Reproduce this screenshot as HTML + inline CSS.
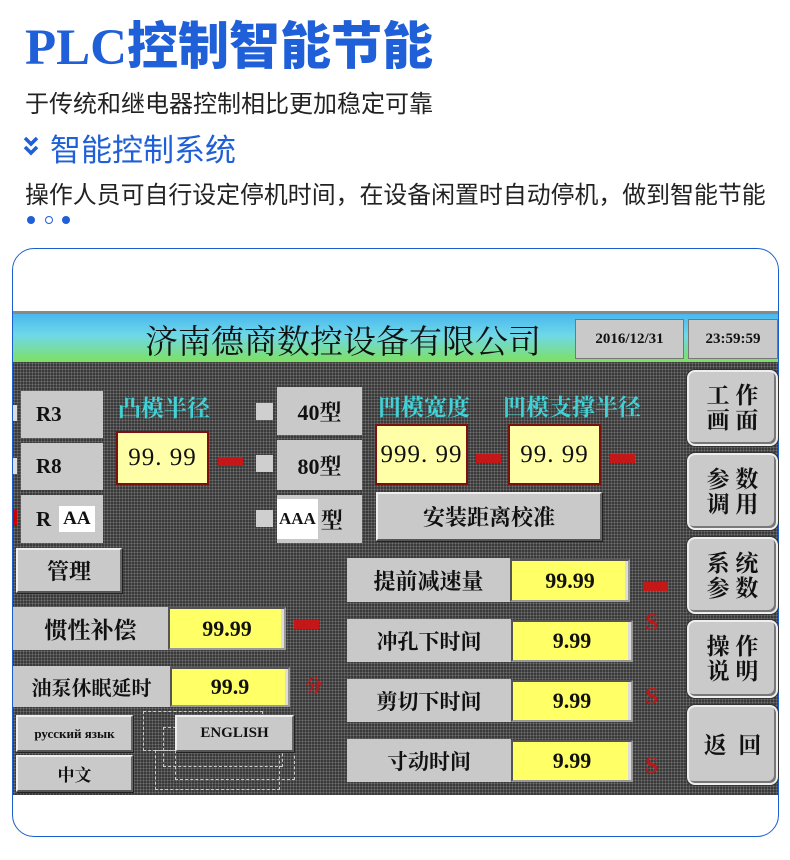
<!DOCTYPE html>
<html><head><meta charset="utf-8">
<style>
*{margin:0;padding:0;box-sizing:border-box}
body{width:790px;height:860px;background:#fff;position:relative;overflow:hidden;font-family:"Liberation Serif","Noto Serif CJK SC",serif}
.a{position:absolute}
.sans{font-family:"Liberation Sans","Noto Sans CJK SC",sans-serif}
.btn{position:absolute;background:#c9c9c9;display:flex;align-items:center;justify-content:center;color:#111;font-weight:bold;font-family:"Liberation Serif","Noto Serif CJK SC",serif}
.rb{border:2px solid #eee;border-right-color:#666;border-bottom-color:#555;box-shadow:1px 1px 0 #222}
.yb{position:absolute;background:#ffff66;border:2px solid #999;border-top-color:#555;border-left-color:#555;box-shadow:inset -3px 0 0 #ddd;display:flex;align-items:center;justify-content:center;font-weight:bold;font-size:22px;color:#111}
.pb{position:absolute;background:#ffffa8;border:2px solid #7a1010;display:flex;align-items:center;justify-content:center;font-size:25px;color:#111;font-family:"Liberation Serif",serif;letter-spacing:1px}
.cy{position:absolute;color:#3fd3d8;font-size:23px;font-family:"Noto Serif CJK SC",serif;font-weight:bold}
.mm{position:absolute;width:25px;height:9px;background:#c41818}
.sq{position:absolute;width:17px;height:17px;background:#cfcfcf}
.s{position:absolute;color:#b81a1a;font-weight:bold;font-size:24px}
.side{position:absolute;left:687px;width:91px;background:#cacaca;border:2px solid #eee;border-radius:8px;box-shadow:inset -2px -2px 0 #777,0 0 0 1px #333;display:flex;align-items:center;justify-content:center;text-align:center;font-weight:bold;font-size:23px;line-height:25px;color:#111}
.dash{position:absolute border:1px dashed #ccc}
.dash{position:absolute;border:1px dashed #ccc}
</style></head><body>
<div class="a sans" style="left:25px;top:5px;font-size:51px;font-weight:900;color:#1f5fd8;white-space:nowrap"><span style="font-family:'Liberation Serif',serif">PLC</span>控制智能节能</div>
<div class="a sans" style="left:25px;top:84px;font-size:24px;color:#222;white-space:nowrap">于传统和继电器控制相比更加稳定可靠</div>
<svg class="a" style="left:23px;top:136px" width="16" height="22" viewBox="0 0 16 22"><path d="M2 2 L8 8 L14 2 M2 11 L8 17 L14 11" fill="none" stroke="#1f5fd8" stroke-width="3.5"/></svg>
<div class="a sans" style="left:50px;top:125px;font-size:31px;color:#1f5fd8;white-space:nowrap">智能控制系统</div>
<div class="a sans" style="left:25px;top:175px;font-size:23.9px;color:#222;white-space:nowrap">操作人员可自行设定停机时间，在设备闲置时自动停机，做到智能节能</div>
<div class="a" style="left:27px;top:216px;width:8px;height:8px;border-radius:50%;background:#1f5fd8"></div>
<div class="a" style="left:45px;top:216px;width:8px;height:8px;border-radius:50%;border:1.5px solid #1f5fd8"></div>
<div class="a" style="left:62px;top:216px;width:8px;height:8px;border-radius:50%;background:#1f5fd8"></div>

<div class="a" style="left:12px;top:248px;width:767px;height:589px;border:1.5px solid #1a5fd0;border-radius:22px"></div>
<div class="a" style="left:13px;top:311px;width:765px;height:3px;background:#888"></div>
<div class="a" style="left:13px;top:314px;width:765px;height:48px;background:linear-gradient(#4ab8f0,#6fd8e8 45%,#7ee060)"></div>
<div class="a" style="left:145px;top:316px;font-size:33px;color:#111;white-space:nowrap;font-family:'Noto Serif CJK SC',serif">济南德商数控设备有限公司</div>
<div class="btn" style="left:575px;top:319px;width:109px;height:40px;border:1px solid #777;font-size:15px">2016/12/31</div>
<div class="btn" style="left:688px;top:319px;width:90px;height:40px;border:1px solid #777;font-size:15px">23:59:59</div>
<div class="a" style="left:13px;top:362px;width:765px;height:433px;background-color:#3a3a3a;background-image:radial-gradient(#707070 0.8px,transparent 1px);background-size:3px 3px"></div>

<div class="a" style="left:13px;top:405px;width:4px;height:16px;background:#ddd"></div>
<div class="a" style="left:13px;top:458px;width:4px;height:16px;background:#ddd"></div>
<div class="a" style="left:13px;top:510px;width:4px;height:16px;background:#c00"></div>
<div class="btn" style="left:21px;top:391px;width:82px;height:47px;justify-content:flex-start;padding-left:15px;font-size:21px">R3</div>
<div class="btn" style="left:21px;top:443px;width:82px;height:47px;justify-content:flex-start;padding-left:15px;font-size:21px">R8</div>
<div class="btn" style="left:21px;top:495px;width:82px;height:48px;justify-content:flex-start;padding-left:15px;font-size:21px">R<span style="background:#fff;margin-left:8px;padding:2px 4px;font-size:19px">AA</span></div>
<div class="cy" style="left:118px;top:390px">凸模半径</div>
<div class="pb" style="left:116px;top:431px;width:93px;height:54px">99. 99</div>
<div class="mm" style="left:218px;top:457px"></div>
<div class="sq" style="left:256px;top:403px"></div>
<div class="sq" style="left:256px;top:455px"></div>
<div class="sq" style="left:256px;top:510px"></div>
<div class="btn" style="left:277px;top:387px;width:85px;height:48px;font-size:22px">40型</div>
<div class="btn" style="left:277px;top:440px;width:85px;height:50px;font-size:22px">80型</div>
<div class="btn" style="left:277px;top:495px;width:85px;height:48px;justify-content:flex-start;font-size:22px"><span style="background:#fff;padding:10px 2px;font-size:17px;margin-right:3px">AAA</span>型</div>
<div class="cy" style="left:378px;top:389px">凹模宽度</div>
<div class="cy" style="left:503px;top:389px">凹模支撑半径</div>
<div class="pb" style="left:375px;top:424px;width:93px;height:61px">999. 99</div>
<div class="mm" style="left:476px;top:454px"></div>
<div class="pb" style="left:508px;top:424px;width:93px;height:61px">99. 99</div>
<div class="mm" style="left:610px;top:454px"></div>
<div class="btn rb" style="left:376px;top:492px;width:226px;height:49px;font-size:22px">安装距离校准</div>

<div class="side" style="top:370px;height:76px">工 作<br>画 面</div>
<div class="side" style="top:453px;height:77px">参 数<br>调 用</div>
<div class="side" style="top:537px;height:77px">系 统<br>参 数</div>
<div class="side" style="top:620px;height:78px">操 作<br>说 明</div>
<div class="side" style="top:705px;height:80px">返 &nbsp;回</div>

<div class="btn rb" style="left:16px;top:548px;width:106px;height:45px;font-size:22px">管理</div>
<div class="btn" style="left:13px;top:607px;width:155px;height:43px;font-size:23px">惯性补偿</div>
<div class="yb" style="left:168px;top:607px;width:118px;height:43px">99.99</div>
<div class="mm" style="left:294px;top:620px"></div>
<div class="btn" style="left:13px;top:666px;width:157px;height:41px;font-size:20px">油泵休眠延时</div>
<div class="yb" style="left:170px;top:667px;width:120px;height:40px">99.9</div>
<div class="s" style="left:305px;top:672px;font-size:18px">分</div>
<div class="dash" style="left:143px;top:711px;width:120px;height:40px"></div>
<div class="dash" style="left:163px;top:727px;width:120px;height:40px"></div>
<div class="dash" style="left:155px;top:750px;width:125px;height:40px"></div>
<div class="dash" style="left:175px;top:745px;width:120px;height:35px"></div>
<div class="btn rb" style="left:16px;top:715px;width:117px;height:37px;font-size:13px">русский язык</div>
<div class="btn rb" style="left:16px;top:755px;width:117px;height:37px;font-size:17px">中文</div>
<div class="btn rb" style="left:175px;top:715px;width:119px;height:37px;font-size:15px">ENGLISH</div>

<div class="btn" style="left:347px;top:558px;width:163px;height:44px;font-size:22px">提前减速量</div>
<div class="yb" style="left:510px;top:559px;width:120px;height:43px">99.99</div>
<div class="mm" style="left:643px;top:582px"></div>
<div class="btn" style="left:347px;top:619px;width:164px;height:43px;font-size:21px">冲孔下时间</div>
<div class="yb" style="left:511px;top:620px;width:122px;height:42px">9.99</div>
<div class="s" style="left:645px;top:610px">S</div>
<div class="btn" style="left:347px;top:679px;width:164px;height:43px;font-size:21px">剪切下时间</div>
<div class="yb" style="left:511px;top:680px;width:122px;height:42px">9.99</div>
<div class="s" style="left:645px;top:684px">S</div>
<div class="btn" style="left:347px;top:739px;width:164px;height:43px;font-size:21px">寸动时间</div>
<div class="yb" style="left:511px;top:740px;width:122px;height:42px">9.99</div>
<div class="s" style="left:645px;top:753px">S</div>
</body></html>
